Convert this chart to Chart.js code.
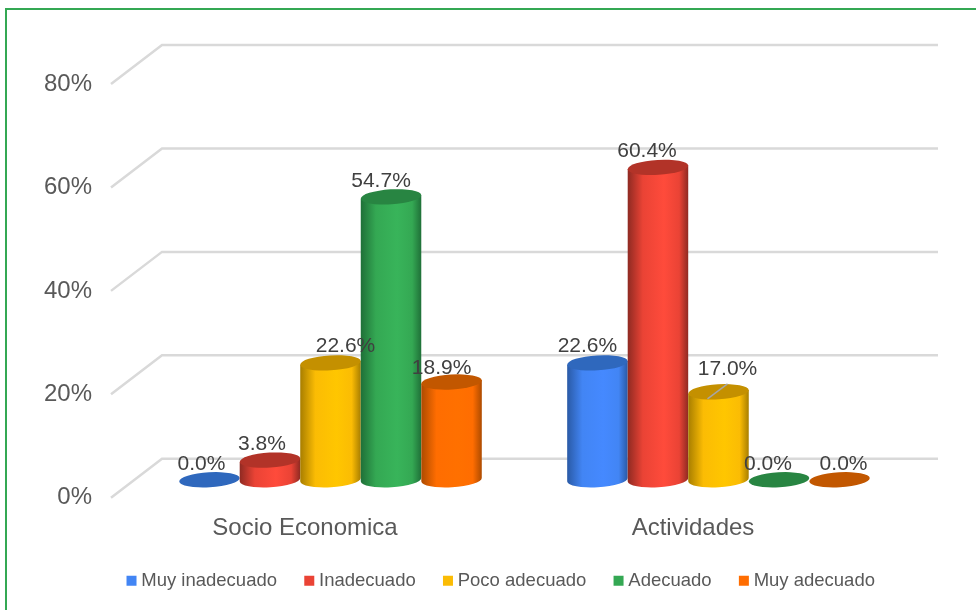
<!DOCTYPE html>
<html>
<head>
<meta charset="utf-8">
<title>Socio Economica / Actividades</title>
<script src="https://cdn.jsdelivr.net/npm/chart.js@4/dist/chart.umd.min.js"></script>
<style>
  html, body { margin: 0; padding: 0; background: #fff; overflow: hidden; }
  #frame { position: absolute; left: 5px; top: 8px; right: 0; bottom: 0; border-top: 2px solid #34a853; border-left: 2px solid #34a853; }
  #chart { position: absolute; left: 0; top: 0; display: block; }
</style>
</head>
<body>
<div id="frame"></div>
<canvas id="chart" width="976" height="610"></canvas>
<script>
var categories = ['Socio Economica', 'Actividades'];
var seriesNames = ['Muy inadecuado', 'Inadecuado', 'Poco adecuado', 'Adecuado', 'Muy adecuado'];
var muyInadecuado = [0.0, 22.6];
var inadecuado = [3.8, 60.4];
var pocoAdecuado = [22.6, 17.0];
var adecuado = [54.7, 0.0];
var muyAdecuado = [18.9, 0.0];
var yTicks = [0, 20, 40, 60, 80];

var colors = ['#4285f4', '#ea4335', '#fbbc04', '#34a853', '#ff6d01'];
var lightColors = ['#4589ff', '#ff4b3b', '#ffc600', '#38b45a', '#ff7000'];
var edgeColors = ['#2a5aa6', '#8f2a22', '#a87e00', '#1f7038', '#ad4b00'];
var topColors = ['#2f68bd', '#b23328', '#c49000', '#288542', '#c25700'];

// floor depth of the 3D box, bars stand half way in
var depthX = 51, depthY = 39;
var barShiftX = 25.5, barShiftY = 18;

// label offsets from the top of each bar, per series then category
var labelNudge = [
  [[-8, -16], [-10, -17]],
  [[-8, -16], [-11, -16]],
  [[15, -17], [9, -23]],
  [[-10, -16], [-11, -16]],
  [[-10, -14], [4, -16]]
];

function drawCylinder(ctx, bar, i) {
  var cx = bar.x + barShiftX;
  var top = bar.y - barShiftY;
  var base = bar.base - barShiftY;
  var rx = bar.width / 2;
  var ry = 7.5;
  var tilt = -0.06;
  var rise = rx * Math.sin(-tilt);

  if (base - top > 0.5) {
    var grad = ctx.createLinearGradient(cx - rx, 0, cx + rx, 0);
    grad.addColorStop(0, edgeColors[i]);
    grad.addColorStop(0.25, colors[i]);
    grad.addColorStop(0.6, lightColors[i]);
    grad.addColorStop(0.85, colors[i]);
    grad.addColorStop(1, edgeColors[i]);
    ctx.beginPath();
    ctx.moveTo(cx - rx, top + rise);
    ctx.lineTo(cx - rx, base + rise);
    ctx.ellipse(cx, base, rx, ry, tilt, Math.PI, 0, true);
    ctx.lineTo(cx + rx, top - rise);
    ctx.closePath();
    ctx.fillStyle = grad;
    ctx.fill();
  }
  ctx.beginPath();
  ctx.ellipse(cx, top, rx, ry, tilt, 0, Math.PI * 2);
  ctx.fillStyle = topColors[i];
  ctx.fill();
}

var box3d = {
  id: 'box3d',
  afterLayout: function(chart) {
    // legend is centred on the whole frame, not on the plot
    chart.legend.left = 30;
    chart.legend.right = 976;
  },
  beforeDatasetsDraw: function(chart) {
    var ctx = chart.ctx;
    var area = chart.chartArea;
    var y = chart.scales.y;

    ctx.save();
    ctx.strokeStyle = '#d9d9d9';
    ctx.lineWidth = 2.5;
    yTicks.forEach(function(t) {
      var py = y.getPixelForValue(t);
      ctx.beginPath();
      ctx.moveTo(area.left, py);
      ctx.lineTo(area.left + depthX, py - depthY);
      ctx.lineTo(area.right + depthX, py - depthY);
      ctx.stroke();
    });

    chart.data.datasets.forEach(function(ds, i) {
      chart.getDatasetMeta(i).data.forEach(function(bar) {
        drawCylinder(ctx, bar, i);
      });
    });
    ctx.restore();
    return false; // cylinders replace the flat bars
  },
  afterDraw: function(chart) {
    var ctx = chart.ctx;
    ctx.save();

    // leader line of the 17.0% label
    var b = chart.getDatasetMeta(2).data[1];
    ctx.strokeStyle = '#a6a6a6';
    ctx.lineWidth = 1.5;
    ctx.beginPath();
    ctx.moveTo(b.x + barShiftX - 11, b.y - barShiftY + 7);
    ctx.lineTo(b.x + barShiftX + 9, b.y - barShiftY - 8);
    ctx.stroke();

    ctx.font = '21px "Liberation Sans"';
    ctx.fillStyle = '#404040';
    ctx.textAlign = 'center';
    ctx.textBaseline = 'middle';
    chart.data.datasets.forEach(function(ds, i) {
      chart.getDatasetMeta(i).data.forEach(function(bar, j) {
        var n = labelNudge[i][j];
        ctx.fillText(ds.data[j].toFixed(1) + '%', bar.x + barShiftX + n[0], bar.y - barShiftY + n[1]);
      });
    });
    ctx.restore();
  }
};

var seriesValues = [muyInadecuado, inadecuado, pocoAdecuado, adecuado, muyAdecuado];

new Chart(document.getElementById('chart'), {
  type: 'bar',
  plugins: [box3d],
  data: {
    labels: categories,
    datasets: seriesNames.map(function(name, i) {
      return { label: name, data: seriesValues[i], backgroundColor: colors[i], borderWidth: 0 };
    })
  },
  options: {
    responsive: false,
    animation: false,
    events: [],
    layout: { padding: { left: 0, right: 89, top: 84, bottom: 10 } },
    datasets: { bar: { categoryPercentage: 0.78, barPercentage: 1 } },
    scales: {
      x: {
        grid: { display: false },
        border: { display: false },
        ticks: { color: '#595959', padding: 8, font: { family: '"Liberation Sans"', size: 24 }, maxRotation: 0 },
        afterFit: function(scale) { scale.height = 42; }
      },
      y: {
        min: 0,
        max: 80,
        grid: { display: false },
        border: { display: false },
        afterFit: function(scale) { scale.width = 111; },
        ticks: {
          stepSize: 20,
          color: '#595959',
          padding: 11,
          font: { family: '"Liberation Sans"', size: 24 },
          callback: function(v) { return v + '%'; }
        }
      }
    },
    plugins: {
      tooltip: { enabled: false },
      title: { display: false },
      legend: {
        position: 'bottom',
        labels: {
          usePointStyle: true,
          pointStyle: 'rect',
          boxWidth: 1,
          boxHeight: 10,
          padding: 31.75,
          color: '#595959',
          font: { family: '"Liberation Sans"', size: 18.5 }
        }
      }
    }
  }
});
</script>
</body>
</html>
